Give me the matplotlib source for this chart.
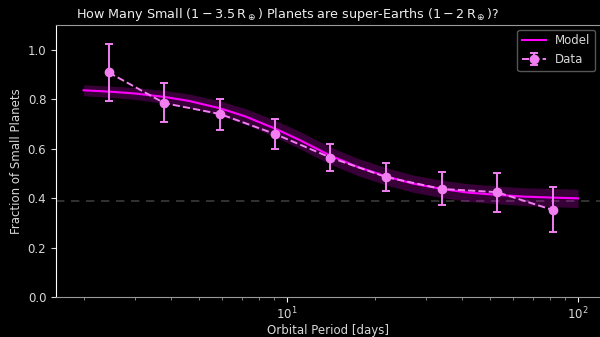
import matplotlib
matplotlib.use("Agg")
import matplotlib.pyplot as plt
from matplotlib.ticker import LogLocator, NullFormatter

# binned occurrence fractions
period_bins = [2.44, 3.79, 5.89, 9.11, 14.1, 21.9, 34.0, 52.7, 81.8]
frac = [0.908, 0.784, 0.740, 0.659, 0.564, 0.485, 0.437, 0.424, 0.352]
err_hi = [0.116, 0.080, 0.062, 0.060, 0.055, 0.058, 0.069, 0.079, 0.092]
err_lo = [0.115, 0.077, 0.064, 0.060, 0.053, 0.058, 0.066, 0.081, 0.089]

# fitted model and its uncertainty band
model_period = [2.0, 2.5, 3.0, 3.8, 4.6, 5.9, 7.2, 9.1, 11.0, 14.2,
                17.5, 21.9, 27.0, 34.0, 42.0, 52.8, 65.0, 81.7, 100.0]
model_frac = [0.836, 0.830, 0.823, 0.809, 0.793, 0.763, 0.730, 0.681, 0.636, 0.570,
              0.526, 0.488, 0.459, 0.437, 0.422, 0.413, 0.406, 0.402, 0.399]
band_half = [0.022, 0.023, 0.024, 0.026, 0.028, 0.030, 0.032, 0.034, 0.035, 0.035,
             0.035, 0.035, 0.035, 0.035, 0.036, 0.036, 0.036, 0.037, 0.037]
baseline = 0.39

plt.rcParams["font.family"] = ["DejaVu Sans"]
text_col = "#d8d8d8"

fig = plt.figure(figsize=(6.0, 3.37), dpi=100, facecolor="black")
ax = fig.add_axes([56 / 600, 40 / 337, 544 / 600, 272 / 337], facecolor="black")

lo = [m - h for m, h in zip(model_frac, band_half)]
hi = [m + h for m, h in zip(model_frac, band_half)]
ax.fill_between(model_period, lo, hi, color="#ff00ff", alpha=0.22, lw=0, zorder=2)
ax.plot(model_period, model_frac, color="#ff00ff", lw=1.5, label="Model", zorder=3)

ax.axhline(baseline, color="#3a3a3a", lw=1.2, ls=(0, (5, 4)), zorder=1)

ax.errorbar(period_bins, frac, yerr=[err_lo, err_hi], fmt="o--", color="#f27ef2",
            ms=6, lw=1.4, elinewidth=1.4, capsize=3, capthick=1.4,
            label="Data", zorder=4)

ax.set_xscale("log")
ax.set_xlim(1.608, 119)
ax.set_ylim(0, 1.1)
ax.set_yticks([0.0, 0.2, 0.4, 0.6, 0.8, 1.0])
ax.xaxis.set_minor_locator(LogLocator(base=10, subs=range(2, 10)))
ax.xaxis.set_minor_formatter(NullFormatter())

for side in ["top", "bottom"]:
    ax.spines[side].set_color("#9a9a9a")
ax.spines["left"].set_color("white")
ax.spines["right"].set_visible(False)
ax.tick_params(colors=text_col, labelsize=8.5, which="both")
ax.tick_params(axis="x", which="major", color="white", pad=3)
ax.tick_params(axis="x", which="minor", color="#9a9a9a")

ax.set_xlabel("Orbital Period [days]", color=text_col, fontsize=8.5, labelpad=1)
ax.set_ylabel("Fraction of Small Planets", color=text_col, fontsize=8.5, labelpad=3)
ax.set_title(r"How Many Small ($1-3.5\,\mathrm{R}_\oplus$) Planets are super-Earths ($1-2\,\mathrm{R}_\oplus$)?",
             color="#eeeeee", fontsize=9.2, x=0.4265, pad=5)

leg = ax.legend(loc="upper right", facecolor="black", edgecolor="#555555",
                fontsize=8.5, framealpha=1, borderaxespad=0.4)
for t in leg.get_texts():
    t.set_color(text_col)

fig.savefig("out.png", dpi=100, facecolor="black")
